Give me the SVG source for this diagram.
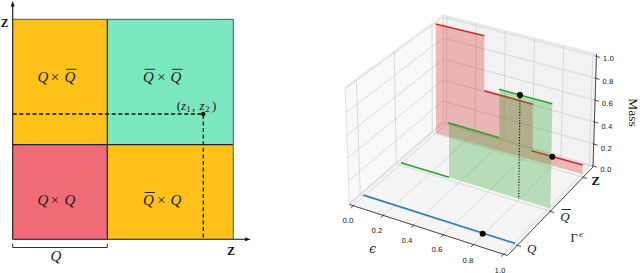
<svg xmlns="http://www.w3.org/2000/svg" width="640" height="273" viewBox="0 0 640 273">
<defs>
<style>
.lbl{font-family:"Liberation Serif",serif;font-size:15px;fill:#1a1a1a}
.it{font-style:italic}
.bd{font-weight:bold}
.bar{stroke:#1a1a1a;stroke-width:0.9}
.dash{stroke:#111;stroke-width:1.3;stroke-dasharray:4 2.6;fill:none}
.grid{stroke:#d2d2d2;stroke-width:0.8;fill:none}
.ax{stroke:#3a3a3a;stroke-width:0.9;fill:none}
.tick{font-family:"DejaVu Sans",sans-serif;font-size:7px;fill:#262626}
.eps{font-family:"DejaVu Serif",serif;font-style:italic;fill:#1a1a1a}
</style>
</defs>
<rect width="640" height="273" fill="#fff"/>

<!-- LEFT DIAGRAM -->
<g id="cell-Q-Qbar">
<rect x="12.7" y="19.3" width="94.6" height="125.4" fill="#FDC11A"/>
<text class="lbl it" x="37.5" y="81.5">Q</text>
<text class="lbl" x="55" y="81.5" text-anchor="middle">×</text>
<text class="lbl it" x="64.5" y="81.5">Q</text>
<line class="bar" x1="66" y1="69.3" x2="76.5" y2="69.3"/>
</g>
<g id="cell-Qbar-Qbar">
<rect x="107.3" y="19.3" width="126" height="125.4" fill="#7BE7BE"/>
<text class="lbl it" x="143" y="81.5">Q</text>
<text class="lbl" x="161.5" y="81.5" text-anchor="middle">×</text>
<text class="lbl it" x="170.5" y="81.5">Q</text>
<line class="bar" x1="144.5" y1="69.3" x2="155" y2="69.3"/>
<line class="bar" x1="172" y1="69.3" x2="182.5" y2="69.3"/>
</g>
<g id="cell-Q-Q">
<rect x="12.7" y="144.7" width="94.6" height="94.6" fill="#F26C78"/>
<text class="lbl it" x="37.5" y="204.5">Q</text>
<text class="lbl" x="55" y="204.5" text-anchor="middle">×</text>
<text class="lbl it" x="64.5" y="204.5">Q</text>
</g>
<g id="cell-Qbar-Q">
<rect x="107.3" y="144.7" width="126" height="94.6" fill="#FDC11A"/>
<text class="lbl it" x="143" y="204.5">Q</text>
<text class="lbl" x="161.5" y="204.5" text-anchor="middle">×</text>
<text class="lbl it" x="170.5" y="204.5">Q</text>
<line class="bar" x1="144.5" y1="192.5" x2="155" y2="192.5"/>
</g>
<g id="left-lines">
<path d="M107.3,19.3V239.3M12.7,144.7H233.3" stroke="#222" stroke-width="1.2" fill="none"/>
<path d="M12.7,19.3H233.3V239.3" stroke="#4b8079" stroke-width="1.2" fill="none"/>
<path class="dash" d="M12.7,114H203.3V239.3"/>
<circle cx="203.3" cy="114" r="2.2" fill="#111"/>
<path d="M12.7,239.3V5.5M12.7,239.3H246" stroke="#111" stroke-width="1.1" fill="none"/>
<polygon points="12.7,0.8 10.8,6.5 14.6,6.5" fill="#111"/>
<polygon points="250.8,239.3 245,237.4 245,241.2" fill="#111"/>
<path d="M12.7,243.5V247.5H107.3V243.5" stroke="#333" stroke-width="1" fill="none"/>
</g>
<g id="left-labels">
<text x="0.8" y="27" font-family="Liberation Serif, serif" font-weight="bold" font-size="11.5" fill="#111">Z</text>
<text x="227.2" y="255" font-family="Liberation Serif, serif" font-weight="bold" font-size="11.5" fill="#111">Z</text>
<text class="lbl it" x="56" y="261" text-anchor="middle">Q</text>
<g style="font-family:'Liberation Serif',serif;font-size:13px;fill:#1a1a1a">
<text x="176.8" y="110">(</text>
<text x="181" y="110" font-style="italic">z</text>
<text x="186.3" y="112.3" style="font-size:9px">1</text>
<text x="192" y="110">,</text>
<text x="199.5" y="110" font-style="italic">z</text>
<text x="205" y="112.3" style="font-size:9px">2</text>
<text x="212" y="110">)</text>
</g>
</g>

<!-- RIGHT 3D PLOT -->
<g id="panes">
<polygon points="349.5,204.5 443,123 443.3,15 345,87.5" fill="#f9f9f9" stroke="#d8d8d8" stroke-width="0.8"/>
<polygon points="443,123 593,167 596.5,54 443.3,15" fill="#f2f2f2" stroke="#d8d8d8" stroke-width="0.8"/>
<polygon points="349.5,204.5 507.5,255.5 593,167 443,123" fill="#f5f5f5" stroke="#d8d8d8" stroke-width="0.8"/>
</g>
<g id="grid">
<path class="grid" d="M353.3,205.7L446.6,124M383.3,215.4L475.1,132.4M413.5,225.2L503.8,140.8M443.5,234.8L532.3,149.2M473.7,244.6L560.9,157.6M503.7,254.3L589.4,166
M360.3,195.1L517.3,245.3M396.3,163.8L550.3,211.3M432.2,132.4L583.2,177.2
M360.3,195.1L356.3,79.2M396.3,163.8L394.2,51.3M432.2,132.4L432,23.3
M349.5,203.3L443,121.9M348.6,180.6L443.1,101M347.7,157.9L443.1,80M346.8,135.2L443.2,59.1M346,112.5L443.2,38.1M345.1,88.8L443.3,17.2
M446.6,124L446.9,15.9M475.1,132.4L476.1,23.3M503.8,140.8L505.3,30.8M532.3,149.2L534.5,38.2M560.9,157.6L563.7,45.7M589.4,166L592.8,53.1
M443,121.9L593,165.9M443.1,101L593.7,144M443.1,80L594.4,122M443.2,59.1L595.1,100.1M443.2,38.1L595.8,78.2M443.3,17.2L596.4,56.3"/>
</g>
<g id="axes3d">
<path class="ax" d="M349.5,204.5L507.5,255.5L593,167L596.5,54"/>
<path class="ax" d="M384.2,214.6L380.6,217.7M414.4,224.4L410.8,227.5M444.4,234L440.8,237.1M474.6,243.8L471,246.9M504.6,253.5L501,256.6M354.2,204.9L350.6,208
M516.3,245L521.1,246.5M549.3,211L554.1,212.5M582.2,176.9L587,178.4
M592,165.6L596.8,167.1M592.7,143.7L597.5,145.2M593.4,121.7L598.2,123.2M594.1,99.8L598.9,101.3M594.8,77.9L599.6,79.4M595.4,56L600.2,57.5"/>
<text class="tick" x="348" y="223.2" text-anchor="middle">0.0</text>
<text class="tick" x="377" y="232.5" text-anchor="middle">0.2</text>
<text class="tick" x="407" y="242.5" text-anchor="middle">0.4</text>
<text class="tick" x="437" y="251.5" text-anchor="middle">0.6</text>
<text class="tick" x="468" y="262.5" text-anchor="middle">0.8</text>
<text class="tick" x="500" y="272.5" text-anchor="middle">1.0</text>
<text class="tick" x="602.8" y="60.8">1.0</text>
<text class="tick" x="602.3" y="84.2">0.8</text>
<text class="tick" x="601.8" y="105.8">0.6</text>
<text class="tick" x="601.3" y="128.5">0.4</text>
<text class="tick" x="600.8" y="150.8">0.2</text>
<text class="tick" x="600.3" y="171.5">0.0</text>
<text transform="translate(628.5,112.5) rotate(90)" text-anchor="middle" style="font-family:'Liberation Serif',serif;font-size:13.5px;fill:#1a1a1a">Mass</text>
<text class="eps" x="372.7" y="252.5" text-anchor="middle" style="font-size:12px">ϵ</text>
<text x="570.5" y="241.7" style="font-family:'Liberation Serif',serif;font-size:12.5px;fill:#1a1a1a">Γ</text>
<text class="eps" x="579" y="236.8" style="font-size:8px">ϵ</text>
<text class="lbl it" x="527" y="253" style="font-size:13px">Q</text>
<text class="lbl it" x="560.3" y="220.5" style="font-size:13px">Q</text>
<line class="bar" x1="561.5" y1="209.5" x2="571" y2="209.5"/>
<text x="591.5" y="185" font-family="Liberation Serif, serif" font-weight="bold" font-size="12.5" fill="#111">Z</text>
</g>
<g id="series-Z">
<polygon points="435.7,24 484.3,35.7 484.3,90.7 532.3,104 532.3,150.7 582.7,165 582.7,174.3 436,133" fill="#d62728" fill-opacity="0.3"/>
<path d="M435.7,24L484.3,35.7M484.3,90.7L532.8,104.2M531.7,150.7L582.7,165" stroke="#d62728" stroke-width="1.5" fill="none"/>
</g>
<g id="series-Qbar">
<polygon points="449,122.7 499.3,137.7 499.3,89.3 552.3,103.7 550.5,208.5 449,177.3" fill="#2ca02c" fill-opacity="0.3"/>
<path d="M401,162.7L449,177.3M448.3,122.7L499.3,137.7M499.3,89.3L552.3,103.7" stroke="#2ca02c" stroke-width="1.5" fill="none"/>
<path d="M520,95L518.7,199" stroke="#1a1a1a" stroke-width="1.2" stroke-dasharray="1.2 1.6" fill="none"/>
</g>
<g id="series-Q">
<path d="M363.3,195L515,243.3" stroke="#1f77b4" stroke-width="1.5" fill="none"/>
</g>
<g id="points">
<circle cx="520" cy="95" r="3" fill="#000"/>
<circle cx="552.3" cy="156.7" r="3" fill="#000"/>
<circle cx="482.7" cy="233.7" r="3" fill="#000"/>
</g>
</svg>
